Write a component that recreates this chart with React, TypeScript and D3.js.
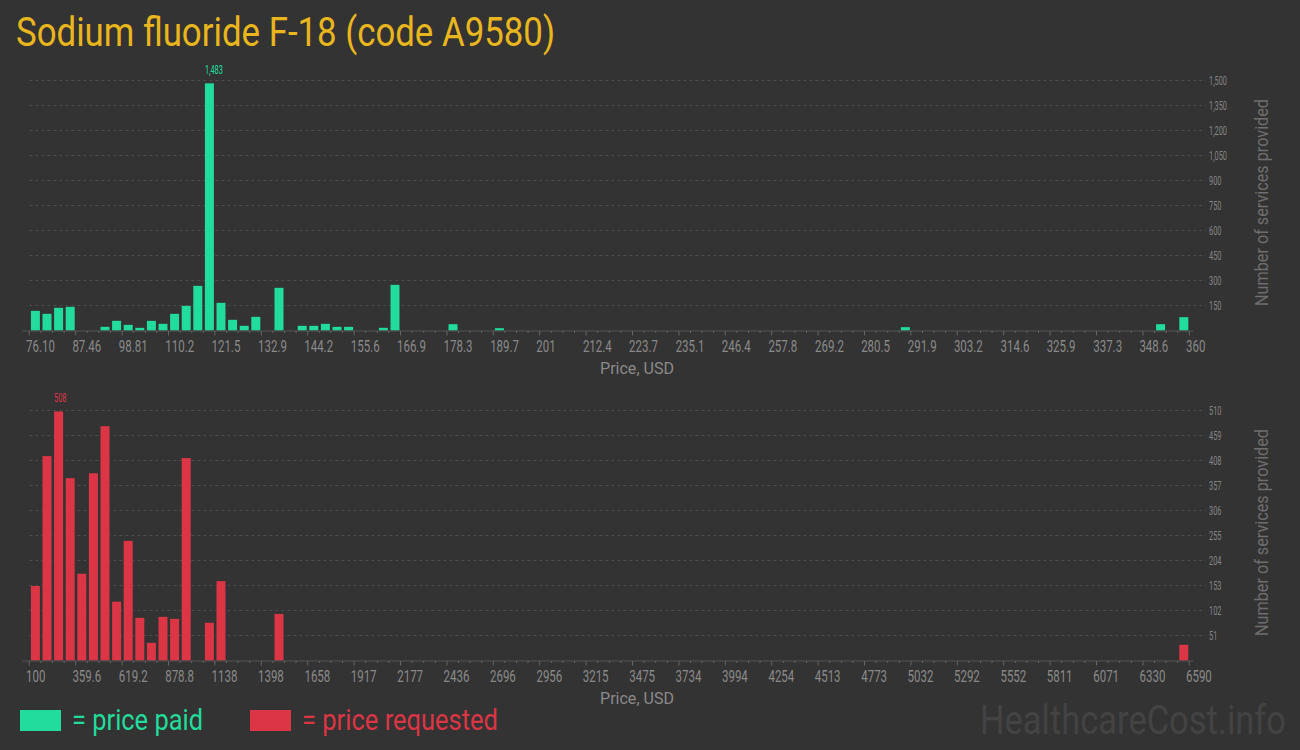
import React from "react";
import * as d3 from "d3";

// Histogram of Medicare prices for one HCPCS code: paid (top) and requested (bottom).

const TITLE = "Sodium fluoride F-18 (code A9580)";

// Price range and bin count of each histogram
const paidRange = [76.1, 360];
const requestedRange = [100, 6590];
const BIN_COUNT = 100;

// Services per price bin, price paid
const paidCounts = [
  118, 100, 136, 142, 0, 0, 22, 58, 34, 16,
  58, 40, 100, 148, 268, 1483, 166, 64, 28, 82,
  0, 256, 0, 28, 28, 40, 22, 22, 0, 0,
  16, 274, 0, 0, 0, 0, 38, 0, 0, 0,
  14, 0, 0, 0, 0, 0, 0, 0, 0, 0,
  0, 0, 0, 0, 0, 0, 0, 0, 0, 0,
  0, 0, 0, 0, 0, 0, 0, 0, 0, 0,
  0, 0, 0, 0, 0, 20, 0, 0, 0, 0,
  0, 0, 0, 0, 0, 0, 0, 0, 0, 0,
  0, 0, 0, 0, 0, 0, 0, 38, 0, 80,
];

// Services per price bin, price requested
const requestedCounts = [
  152, 417, 508, 372, 177, 382, 478, 120, 244, 87,
  36, 89, 85, 413, 0, 77, 162, 0, 0, 0,
  0, 95, 0, 0, 0, 0, 0, 0, 0, 0,
  0, 0, 0, 0, 0, 0, 0, 0, 0, 0,
  0, 0, 0, 0, 0, 0, 0, 0, 0, 0,
  0, 0, 0, 0, 0, 0, 0, 0, 0, 0,
  0, 0, 0, 0, 0, 0, 0, 0, 0, 0,
  0, 0, 0, 0, 0, 0, 0, 0, 0, 0,
  0, 0, 0, 0, 0, 0, 0, 0, 0, 0,
  0, 0, 0, 0, 0, 0, 0, 0, 0, 32,
];

const paidTickLabels = [
  "76.10", "87.46", "98.81", "110.2", "121.5", "132.9", "144.2", "155.6", "166.9",
  "178.3", "189.7", "201", "212.4", "223.7", "235.1", "246.4", "257.8", "269.2",
  "280.5", "291.9", "303.2", "314.6", "325.9", "337.3", "348.6", "360",
];
const requestedTickLabels = [
  "100", "359.6", "619.2", "878.8", "1138", "1398", "1658", "1917", "2177",
  "2436", "2696", "2956", "3215", "3475", "3734", "3994", "4254", "4513",
  "4773", "5032", "5292", "5552", "5811", "6071", "6330", "6590",
];

const paidYTicks = [150, 300, 450, 600, 750, 900, 1050, 1200, 1350, 1500];
const requestedYTicks = [51, 102, 153, 204, 255, 306, 357, 408, 459, 510];

const BG = "#333333";
const GREEN = "#21dc9c";
const RED = "#dc3545";
const GOLD = "#e9b61d";
const FONT = "Roboto, 'Noto Sans', sans-serif";

const X0 = 29.3;
const X1 = 1189.3;
const PLOT_H = 250;

type CTextProps = {
  x: number;
  y: number;
  size: number;
  sx: number;
  fill: string;
  anchor?: "start" | "middle" | "end";
  children: React.ReactNode;
};

// Narrow text: Roboto squeezed horizontally
function CText({ x, y, size, sx, fill, anchor = "start", children }: CTextProps) {
  return (
    <text
      transform={`translate(${x},${y}) scale(${sx},1)`}
      fontFamily={FONT}
      fontSize={size}
      fill={fill}
      textAnchor={anchor}
    >
      {children}
    </text>
  );
}

type PanelProps = {
  counts: number[];
  range: number[];
  tickLabels: string[];
  yTicks: number[];
  yMax: number;
  baseline: number;
  color: string;
};

function Panel({ counts, range, tickLabels, yTicks, yMax, baseline, color }: PanelProps) {
  const x = d3.scaleLinear().domain(range).range([X0, X1]);
  const y = d3.scaleLinear().domain([0, yMax]).range([baseline, baseline - PLOT_H]);
  const binW = (range[1] - range[0]) / BIN_COUNT;
  const edges = d3.range(BIN_COUNT + 1).map((i) => range[0] + i * binW);
  const binPx = x(edges[1]) - x(edges[0]);
  const maxIdx = d3.maxIndex(counts);
  const fmt = d3.format(",");

  return (
    <g>
      {/* gridlines and right-hand value labels */}
      {yTicks.map((t) => (
        <g key={t}>
          <line
            x1={X0}
            x2={1206}
            y1={y(t)}
            y2={y(t)}
            stroke="#4c4c4c"
            strokeWidth={1}
            strokeDasharray="3,3"
          />
          <CText x={1209} y={y(t) + 4.5} size={12.7} sx={0.58} fill="#858585">
            {fmt(t)}
          </CText>
        </g>
      ))}

      {/* bars */}
      {counts.map((c, i) =>
        c > 0 ? (
          <rect
            key={i}
            x={x(edges[i]) + 1.6}
            y={y(c)}
            width={binPx - 2.6}
            height={baseline - y(c)}
            fill={color}
          />
        ) : null
      )}

      {/* peak value label */}
      <CText x={x(edges[maxIdx]) + 1.6} y={y(counts[maxIdx]) - 9} size={12.7} sx={0.58} fill={color}>
        {fmt(counts[maxIdx])}
      </CText>

      {/* x axis */}
      <line x1={22} x2={1193} y1={baseline + 0.5} y2={baseline + 0.5} stroke="#555" strokeWidth={1} />
      {edges.map((e, i) => (
        <line
          key={i}
          x1={x(e)}
          x2={x(e)}
          y1={baseline + 0.5}
          y2={baseline + (i % 4 === 0 ? 5 : 2.5)}
          stroke="#666"
          strokeWidth={1}
        />
      ))}
      {tickLabels.map((t) => (
        <CText key={t} x={x(+t) - 3.3} y={baseline + 21.3} size={17.4} sx={0.66} fill="#8a8a8a">
          {t}
        </CText>
      ))}

      <text
        x={637}
        y={baseline + 43.5}
        fontFamily={FONT}
        fontSize={17}
        fill="#8a8a8a"
        textAnchor="middle"
        textLength={74}
        lengthAdjust="spacingAndGlyphs"
      >
        Price, USD
      </text>

      <text
        transform={`translate(1268,${baseline - 128}) rotate(-90)`}
        fontFamily={FONT}
        fontSize={17.5}
        fill="#6e6e6e"
        textAnchor="middle"
        textLength={207}
        lengthAdjust="spacingAndGlyphs"
      >
        Number of services provided
      </text>
    </g>
  );
}

export default function App() {
  return (
    <svg
      width={1300}
      height={750}
      style={{ position: "absolute", left: 0, top: 0, display: "block" }}
    >
      <rect width={1300} height={750} fill={BG} />

      <text
        x={16}
        y={46}
        fontFamily={FONT}
        fontSize={40}
        fill={GOLD}
        textLength={539}
        lengthAdjust="spacingAndGlyphs"
      >
        {TITLE}
      </text>

      <Panel
        counts={paidCounts}
        range={paidRange}
        tickLabels={paidTickLabels}
        yTicks={paidYTicks}
        yMax={1500}
        baseline={330.5}
        color={GREEN}
      />
      <Panel
        counts={requestedCounts}
        range={requestedRange}
        tickLabels={requestedTickLabels}
        yTicks={requestedYTicks}
        yMax={510}
        baseline={660.5}
        color={RED}
      />

      {/* legend */}
      <rect x={20} y={710} width={41} height={21} fill={GREEN} />
      <text
        x={72}
        y={729.5}
        fontFamily={FONT}
        fontSize={29}
        fill={GREEN}
        textLength={131}
        lengthAdjust="spacingAndGlyphs"
      >
        = price paid
      </text>
      <rect x={250} y={710} width={41} height={21} fill={RED} />
      <text
        x={302}
        y={729.5}
        fontFamily={FONT}
        fontSize={29}
        fill={RED}
        textLength={196}
        lengthAdjust="spacingAndGlyphs"
      >
        = price requested
      </text>

      <text
        x={980}
        y={734}
        fontFamily={FONT}
        fontSize={40}
        fill="#434343"
        textLength={306}
        lengthAdjust="spacingAndGlyphs"
      >
        HealthcareCost.info
      </text>
    </svg>
  );
}
